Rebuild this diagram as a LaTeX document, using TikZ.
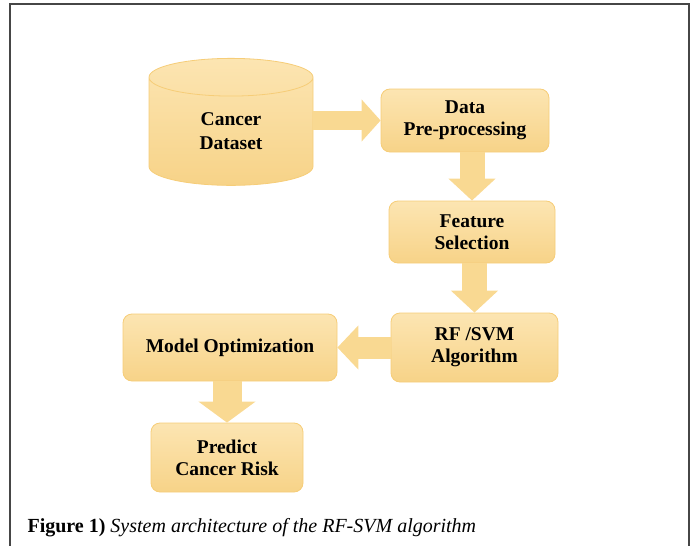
\documentclass[tikz,border=0pt]{standalone}
\usepackage{fontspec}
\setmainfont{Liberation Serif}
\usetikzlibrary{arrows.meta,shapes.geometric}
\definecolor{boxtop}{RGB}{252,229,178}
\definecolor{boxbot}{RGB}{247,211,136}
\definecolor{boxline}{RGB}{246,205,120}
\definecolor{arrfill}{RGB}{249,217,146}
\definecolor{framegray}{RGB}{70,70,70}

\begin{document}
\begin{tikzpicture}[x=1pt,y=-1pt,
  font=\fontsize{19.5}{22}\selectfont\bfseries,
  block/.style={rounded corners=9pt,draw=boxline,line width=0.8pt,
    top color=boxtop,bottom color=boxbot,align=center,inner sep=0pt},
  store/.style={cylinder,shape border rotate=90,aspect=0.6,draw=boxline,
    line width=0.8pt,top color=boxtop,bottom color=boxbot,align=center,
    inner sep=0pt},
  flow/.style={draw=arrfill,line width=#1},
  flow/.default=22pt]

\useasboundingbox (0,0) rectangle (694,546);
\draw[framegray,line width=1.2pt] (10,546) -- (10,4) -- (689,4) -- (689,546);

\node[store,minimum width=164pt,minimum height=127pt] (dataset) at (231,131.5)
  {Cancer\\[2pt]Dataset};
\node[block,minimum width=168pt,minimum height=63pt] (prep) at (465,120.5)
  {Data\\Pre-processing};
\node[block,minimum width=166pt,minimum height=62pt] (feat) at (472,232)
  {Feature\\Selection};
\node[block,minimum width=167pt,minimum height=69pt] (algo) at (474.5,347.5)
  {RF /SVM\\Algorithm};
\node[block,minimum width=214pt,minimum height=67pt] (optim) at (230,347.5)
  {Model Optimization};
\node[block,minimum width=152pt,minimum height=69pt] (predict) at (227,457.5)
  {Predict\\Cancer Risk};

% block arrows between the stages
\draw[flow=19pt,-{Triangle[length=19pt,width=41pt,fill=arrfill]}]
  (dataset.east |- prep.west) -- (prep.west);
\draw[flow=25pt,-{Triangle[length=22pt,width=46pt,fill=arrfill]}]
  (prep.south -| feat.north) -- (feat.north);
\draw[flow=25pt,-{Triangle[length=22pt,width=46pt,fill=arrfill]}]
  (feat.south -| algo.north) -- (algo.north);
\draw[flow=22pt,-{Triangle[length=21pt,width=43pt,fill=arrfill]}]
  (algo.west) -- (optim.east);
\draw[flow=29pt,-{Triangle[length=21pt,width=56pt,fill=arrfill]}]
  (optim.south -| predict.north) -- (predict.north);

\node[font=\fontsize{20}{24}\selectfont,anchor=base west] (caption) at (24,532)
  {\textbf{Figure 1)} \textit{System architecture of the RF-SVM algorithm}};
\end{tikzpicture}
\end{document}
